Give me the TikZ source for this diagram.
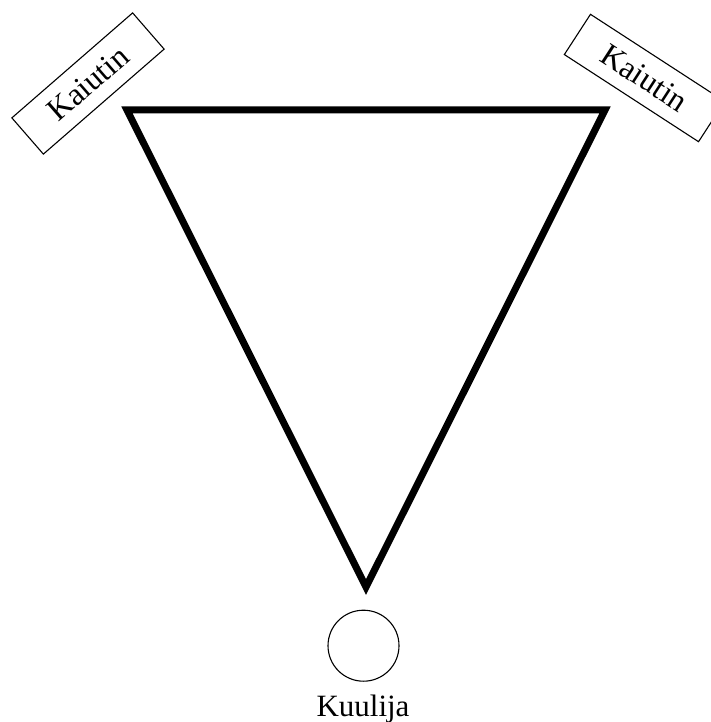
\documentclass[tikz,border=0pt]{standalone}
\usepackage{fontspec}
\setmainfont{Liberation Serif}
\begin{document}
\begin{tikzpicture}[x=1pt,y=-1pt,
  speaker/.style={draw, line width=1.1pt, minimum width=160pt, minimum height=48pt, inner sep=0pt,
    font=\fontsize{32}{36}\selectfont},
  listener/.style={draw, circle, line width=1.1pt, minimum size=71pt, inner sep=0pt},
  lbl/.style={font=\fontsize{31}{36}\selectfont, inner sep=0pt},
  tri/.style={line width=7pt, line join=miter}]
\useasboundingbox (0,0) rectangle (711,722);
\coordinate (tl) at (127,110);
\coordinate (tr) at (605,110);
\coordinate (bt) at (366,587);
\draw[tri] (tl) -- (tr) -- (bt) -- cycle;
\node[speaker, rotate=41] (spkL) at (88,83.5) {Kaiutin};
\node[speaker, rotate=-33] (spkR) at (644.5,78) {Kaiutin};
\node[listener] (lis) at (363.5,645.7) {};
\node[lbl, anchor=base] (name) at (363,716.5) {Kuulija};
\end{tikzpicture}
\end{document}
